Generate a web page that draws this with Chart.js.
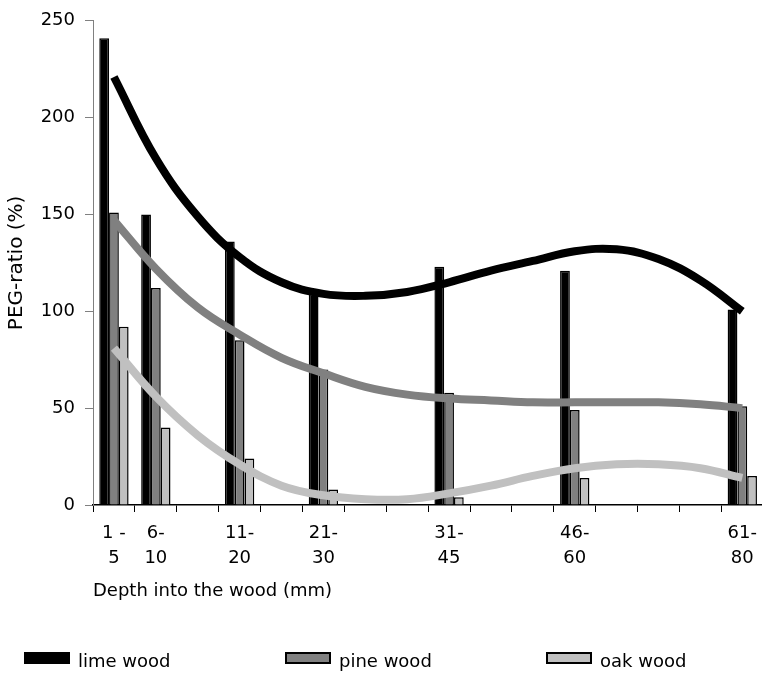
<!DOCTYPE html>
<html>
<head>
<meta charset="utf-8">
<script src="https://cdn.jsdelivr.net/npm/chart.js@4"></script>
<style>
    html, body { margin: 0; padding: 0; background: #fff; overflow: hidden; }
</style>
</head>
<body>
<canvas id="pegChart" width="766" height="674"></canvas>
<script>
// x axis is split into 5 mm slots (1-5 ... 76-80), each range sits in the slot where it ends
var slotLabels = [['1 -', '5'], ['6-', '10'], '', ['11-', '20'], '', ['21-', '30'], '', '',
                  ['31-', '45'], '', '', ['46-', '60'], '', '', '', ['61-', '80']];
var rangeSlot = [0, 1, 3, 5, 8, 11, 15];

// PEG-ratio (%) per depth range
var limeWood = [241, 150, 136, 109, 123, 121, 101];
var pineWood = [151, 112, 85, 70, 58, 49, 51];
var oakWood  = [92, 40, 24, 8, 4, 14, 15];

// trend curves, read at every slot
var limeTrend = [221, 179, 149, 128, 115, 109, 108, 110, 115, 121, 126, 131, 132, 127, 116, 100];
var pineTrend = [147, 122, 102, 88, 76, 68, 61, 57, 55, 54, 53, 53, 53, 53, 52, 50];
var oakTrend  = [81, 56, 36, 21, 10, 5, 3, 3, 6, 10, 15, 19, 21, 21, 19, 14];

var yTicks = { min: 0, max: 250, step: 50 };

// spread the 7 range values over the 16 slots
function toSlots(values) {
    var out = slotLabels.map(function () { return null; });
    rangeSlot.forEach(function (slot, i) { out[slot] = values[i]; });
    return out;
}

function barSet(label, values, color) {
    return {
        type: 'bar',
        label: label,
        data: toSlots(values),
        backgroundColor: color,
        borderColor: '#000',
        borderWidth: 1.5,
        categoryPercentage: 0.7,
        barPercentage: 1,
        order: 1
    };
}

function trendSet(label, values, color) {
    return {
        type: 'line',
        label: label,
        data: values,
        borderColor: color,
        borderWidth: 8,
        pointRadius: 0,
        tension: 0.4,
        fill: false,
        order: 0
    };
}

// legend only for the bar series, laid out in one row under the axis title
var bottomLegend = {
    id: 'bottomLegend',
    afterDraw: function (chart) {
        var ctx = chart.ctx;
        ctx.save();
        ctx.font = '18px "DejaVu Sans"';
        ctx.textBaseline = 'alphabetic';
        chart.data.datasets.forEach(function (ds, i) {
            if (ds.type !== 'bar') return;
            var x = 25 + i * 261, y = 653;
            ctx.fillStyle = ds.backgroundColor;
            ctx.fillRect(x, y, 44, 10);
            ctx.lineWidth = 2;
            ctx.strokeStyle = '#000';
            ctx.strokeRect(x, y, 44, 10);
            ctx.fillStyle = '#000';
            ctx.fillText(ds.label, x + 53, 667);
        });
        ctx.restore();
    }
};

Chart.defaults.font.family = '"DejaVu Sans"';
Chart.defaults.font.size = 18;
Chart.defaults.color = '#000';

var ctx = document.getElementById('pegChart').getContext('2d');
var pegChart = new Chart(ctx, {
    data: {
        labels: slotLabels,
        datasets: [
            barSet('lime wood', limeWood, '#000000'),
            barSet('pine wood', pineWood, '#808080'),
            barSet('oak wood', oakWood, '#c0c0c0'),
            trendSet('lime wood trend', limeTrend, '#000000'),
            trendSet('pine wood trend', pineTrend, '#808080'),
            trendSet('oak wood trend', oakTrend, '#c0c0c0')
        ]
    },
    options: {
        responsive: false,
        animation: false,
        layout: { padding: { top: 19, left: 0, right: 0, bottom: 72 } },
        scales: {
            x: {
                offset: true,
                grid: { offset: true, drawOnChartArea: false, tickLength: 7, color: '#000' },
                border: { color: '#000', width: 1.5 },
                ticks: {
                    autoSkip: false,
                    maxRotation: 0,
                    padding: 9,
                    font: { size: 18, lineHeight: 25 / 18 }
                },
                title: {
                    display: true,
                    text: 'Depth into the wood (mm)',
                    align: 'start',
                    padding: 0,
                    font: { size: 18 }
                },
                afterFit: function (scale) { scale.height = 97; }
            },
            y: {
                min: yTicks.min,
                max: yTicks.max,
                ticks: { stepSize: yTicks.step, padding: 10, font: { size: 18 } },
                grid: { drawOnChartArea: false, tickLength: 8, color: '#808080' },
                border: { color: '#808080', width: 1 },
                title: {
                    display: true,
                    text: 'PEG-ratio (%)',
                    padding: { top: 5, bottom: 0 },
                    font: { size: 20 }
                },
                afterFit: function (scale) { scale.width = 93; }
            }
        },
        plugins: {
            legend: { display: false },
            tooltip: { enabled: false }
        }
    },
    plugins: [bottomLegend]
});
</script>
</body>
</html>
